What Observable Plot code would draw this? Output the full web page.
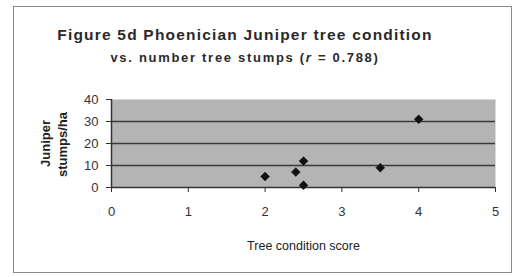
<!DOCTYPE html>
<html><head><meta charset="utf-8">
<script src="https://cdn.jsdelivr.net/npm/d3@7"></script>
<script src="https://cdn.jsdelivr.net/npm/@observablehq/plot@0.6"></script>
<style>
html,body{margin:0;padding:0;background:#fff;}
#wrap{position:relative;width:515px;height:277px;font-family:"Liberation Sans",Arial,sans-serif;}
#border{position:absolute;left:13px;top:6px;width:497px;height:265px;border:1.5px solid #8a8a8a;}
.t{position:absolute;left:0;width:490px;text-align:center;font-weight:bold;color:#2a2a2a;white-space:nowrap;}
#t1{top:27px;font-size:15.5px;line-height:15.5px;letter-spacing:1.2px;}
#t2{top:51px;font-size:13px;line-height:13px;letter-spacing:1.7px;}
#chart{position:absolute;left:0;top:0;}
</style></head>
<body><div id="wrap"><div id="border"></div>
<div class="t" id="t1">Figure 5d Phoenician Juniper tree condition</div>
<div class="t" id="t2">vs. number tree stumps (<i>r</i> = 0.788)</div>
<div id="chart"></div></div>
<script>
const conditionScore = [2, 2.4, 2.5, 2.5, 3.5, 4];
const stumpsPerHa = [5, 7, 12, 1, 9, 31];
const xTicks = [0, 1, 2, 3, 4, 5];
const yTicks = [0, 10, 20, 30, 40];
const gridValues = [10, 20, 30];
const xLabel = "Tree condition score";
const yLabelLines = ["Juniper", "stumps/ha"];

const data = conditionScore.map((x, i) => ({x, y: stumpsPerHa[i]}));

const plot = Plot.plot({
  width: 515, height: 277,
  marginLeft: 111, marginRight: 20, marginTop: 99, marginBottom: 90,
  style: {fontFamily: "Liberation Sans, Arial, sans-serif", fontSize: "12px", color: "#333", background: "transparent"},
  x: {domain: [0, 5], ticks: xTicks, label: null},
  y: {domain: [0, 40], ticks: yTicks, label: null},
  marks: [
    Plot.frame({fill: "#b4b4b4", stroke: null}),
    Plot.ruleY(gridValues, {stroke: "#3a3a3a", strokeWidth: 1.6}),
    Plot.ruleY([0], {stroke: "#333", strokeWidth: 1.5}),
    Plot.ruleX([0], {stroke: "#333", strokeWidth: 1.5}),
    Plot.axisX({ticks: xTicks, tickSize: 5, tickPadding: 14, tickFormat: d => d, fontSize: 13, label: null}),
    Plot.axisY({ticks: yTicks, tickSize: 5, tickPadding: 8, tickFormat: d => d, fontSize: 13, label: null}),
    Plot.dot(data, {x: "x", y: "y", symbol: "diamond2", r: 4, fill: "#111", stroke: "#111", strokeWidth: 0.5}),
    Plot.text([xLabel], {frameAnchor: "bottom", dy: 62, fontSize: 12.5, fill: "#222", letterSpacing: "0.3px"}),
    Plot.text([yLabelLines[0]], {frameAnchor: "left", textAnchor: "middle", dx: -66, dy: 0, rotate: -90, fontSize: 13, fontWeight: "bold", fill: "#222"}),
    Plot.text([yLabelLines[1]], {frameAnchor: "left", textAnchor: "middle", dx: -49, dy: 1, rotate: -90, fontSize: 13, fontWeight: "bold", fill: "#222"})
  ]
});
document.getElementById("chart").appendChild(plot);
</script></body></html>
